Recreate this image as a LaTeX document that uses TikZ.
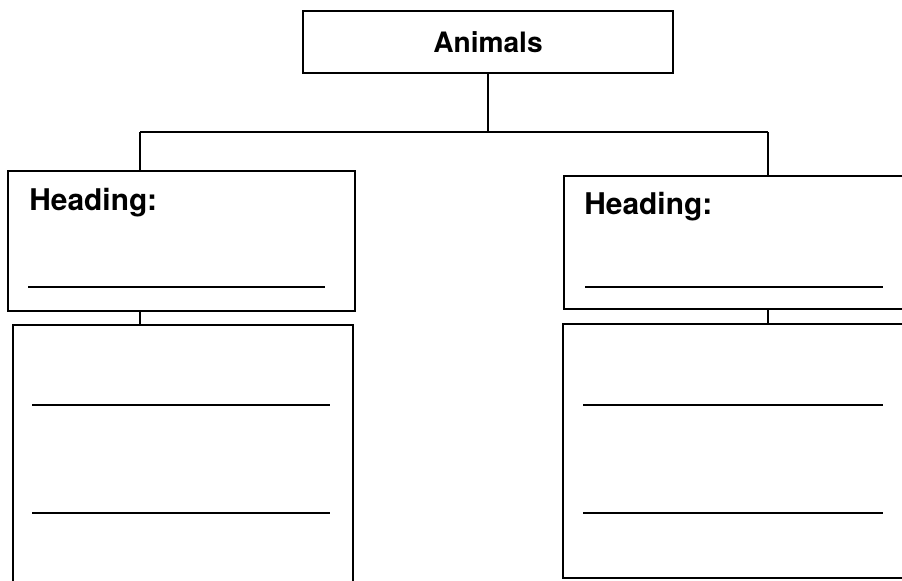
\documentclass[tikz,border=0pt]{standalone}
\usepackage{fontspec}
\setmainfont{TeX Gyre Heros}
\usetikzlibrary{positioning,calc}

\begin{document}
\begin{tikzpicture}[x=0.02cm,y=-0.02cm,
    box/.style={draw,line width=1.1pt,rectangle,inner sep=0pt},
    rule/.style={line width=0.9pt},
    link/.style={line width=0.9pt},
    headtext/.style={anchor=base west,inner sep=0pt,font=\bfseries\fontsize{17}{20}\selectfont}]
  \useasboundingbox (0,0) rectangle (902,581);
  \clip (0,0) rectangle (902,581);
  % top box
  \node[box,minimum width=7.4cm,minimum height=1.24cm,
    font=\bfseries\fontsize{16}{19}\selectfont] (animals) at (488,42) {Animals};
  % heading boxes
  \node[box,minimum width=6.94cm,minimum height=2.8cm] (lhead) at (181.5,241) {};
  \node[box,minimum width=6.94cm,minimum height=2.66cm] (rhead) at (737.5,242.5) {};
  \node[headtext] (lheadtxt) at ([shift={(22,40)}]lhead.north west) {Heading:};
  \node[headtext] (rheadtxt) at ([shift={(21,39)}]rhead.north west) {Heading:};
  \draw[rule] (28,287) -- (325,287);
  \draw[rule] (585,287) -- (883,287);
  % lower boxes
  \node[box,minimum width=6.8cm,minimum height=5.5cm] (lbody) at (183,462.5) {};
  \node[box,minimum width=6.94cm,minimum height=5.08cm] (rbody) at (736.5,451) {};
  \foreach \y in {405,513}
    {\draw[rule] (32,\y) -- (330,\y);
     \draw[rule] (583,\y) -- (883,\y);}
  % connectors
  \coordinate (split) at (animals.south |- 0,132);
  \coordinate (lbranch) at (140,132);
  \coordinate (rbranch) at (768,132);
  \draw[link] (animals.south) -- (split);
  \draw[link] (lbranch) -- (rbranch);
  \draw[link] (lbranch) -- (lbranch |- lhead.north);
  \draw[link] (rbranch) -- (rbranch |- rhead.north);
  \draw[link] (lbranch |- lhead.south) -- (lbranch |- lbody.north);
  \draw[link] (rbranch |- rhead.south) -- (rbranch |- rbody.north);
\end{tikzpicture}
\end{document}
